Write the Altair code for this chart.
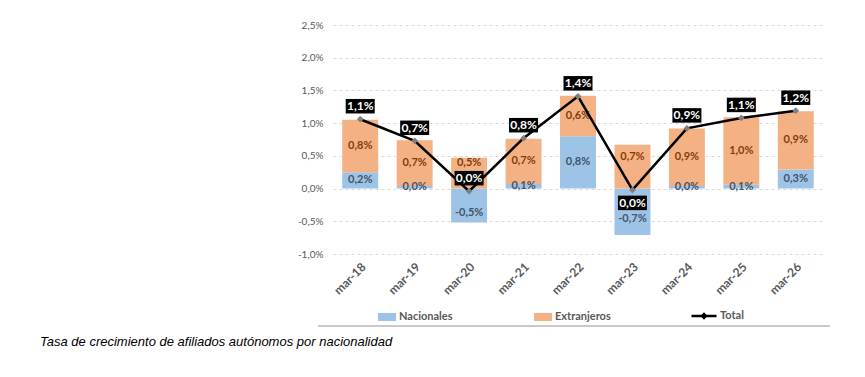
import altair as alt
import pandas as pd

categories = ["mar-18", "mar-19", "mar-20", "mar-21", "mar-22", "mar-23", "mar-24", "mar-25", "mar-26"]
nacionales = [0.25, 0.04, -0.52, 0.07, 0.80, -0.71, 0.04, 0.06, 0.29]
extranjeros = [0.80, 0.70, 0.47, 0.69, 0.62, 0.67, 0.88, 1.03, 0.89]
total = [1.06, 0.73, -0.04, 0.77, 1.41, -0.02, 0.92, 1.08, 1.19]
y_ticks = [-1.0, -0.5, 0.0, 0.5, 1.0, 1.5, 2.0, 2.5]
series_names = ["Nacionales", "Extranjeros"]
series_colors = ["#9DC3E6", "#F4B183"]
label_colors = ["#44546A", "#843C0C"]


def fmt(v):
    return f"{round(v, 1) + 0.0:.1f}".replace(".", ",") + "%"


rows = []
for i, c in enumerate(categories):
    rows.append({"cat": c, "serie": "Nacionales", "value": nacionales[i], "order": 0,
                 "label": fmt(nacionales[i])})
    rows.append({"cat": c, "serie": "Extranjeros", "value": extranjeros[i], "order": 1,
                 "label": fmt(extranjeros[i])})
bars_df = pd.DataFrame(rows)

tot_df = pd.DataFrame({"cat": categories, "value": total,
                       "label": [fmt(v) for v in total], "serie": ["Total"] * len(total)})

FONT = "Lato"
GRAY = "#595959"

x_axis = alt.Axis(labelAngle=-45, labelFont=FONT, labelFontWeight="bold",
                  labelFontSize=12, labelColor=GRAY, ticks=False, domain=False,
                  labelPadding=7, grid=False)
x_scale = alt.Scale(paddingInner=0.34, paddingOuter=0.17)
y_axis = alt.Axis(values=y_ticks, tickCount=8,
                  labelExpr="replace(replace(format(datum.value, '.1f'), '.', ','), '\u2212', '-') + '%'",
                  labelFont=FONT, labelFontSize=10, labelColor=GRAY, ticks=False,
                  domain=False, labelPadding=10, gridColor="#D9D9D9", labelOverlap=False,
                  gridDash=[3, 3], gridWidth=1)
y_scale = alt.Scale(domain=[-1.0, 2.5], nice=False, zero=False)


def X():
    return alt.X("cat:N", sort=categories, title=None, scale=x_scale, axis=x_axis)


def Y(field):
    return alt.Y(field, scale=y_scale, title=None, axis=y_axis)


stacked = alt.Chart(bars_df).transform_stack(
    stack="value", groupby=["cat"], as_=["v0", "v1"], sort=[alt.SortField("order")]
).transform_calculate(mid="(datum.v0 + datum.v1) / 2").transform_joinaggregate(
    minv="min(value)", groupby=["cat"]
)

bars = stacked.mark_bar().encode(
    x=X(),
    y=Y("v0:Q"),
    y2="v1:Q",
    color=alt.Color("serie:N", scale=alt.Scale(domain=series_names, range=series_colors),
                    legend=alt.Legend(title=None, orient="none", direction="horizontal",
                                      legendX=45, legendY=283, columnPadding=81,
                                      symbolType="M-1,-0.45H1V0.45H-1Z", symbolSize=324,
                                      symbolStrokeWidth=0, labelFont=FONT, labelFontSize=11,
                                      labelFontWeight="bold", labelColor=GRAY, labelOffset=3)),
)


def seg_labels(flt, dy):
    return stacked.transform_filter(flt).mark_text(
        font=FONT, fontSize=11, fontWeight="bold", yOffset=dy
    ).encode(
        x=X(),
        y=Y("mid:Q"),
        text="label:N",
        color=alt.Color("serie:N", scale=alt.Scale(domain=series_names, range=label_colors), legend=None),
    )


lab_normal = seg_labels("datum.minv >= 0", 0)
lab_neg_nac = seg_labels("datum.minv < 0 && datum.serie == 'Nacionales'", 7)
lab_neg_ext = seg_labels("datum.minv < 0 && datum.serie == 'Extranjeros'", -10)

line = alt.Chart(tot_df).mark_line(strokeWidth=2.5).encode(
    x=X(),
    y=Y("value:Q"),
    stroke=alt.Stroke("serie:N", scale=alt.Scale(domain=["Total"], range=["black"]),
                      legend=alt.Legend(title=None, orient="none", legendX=357, legendY=277,
                                        symbolType="M-1,0H1M-0.15,0L0,-0.15L0.15,0L0,0.15Z",
                                        symbolSize=625, symbolStrokeWidth=2.5,
                                        labelFont=FONT, labelFontSize=11, labelFontWeight="bold",
                                        labelColor=GRAY, labelOffset=2)),
)

points = alt.Chart(tot_df).mark_point(shape="diamond", filled=True, size=45, color="#7F7F7F", opacity=1).encode(
    x=X(),
    y=Y("value:Q"),
)

base_tot = alt.Chart(tot_df)
box_shape = "M-1,-0.5H1V0.5H-1Z"
above = base_tot.transform_filter(alt.datum.cat != "mar-23")
below = base_tot.transform_filter(alt.datum.cat == "mar-23")


def tot_box(src, dy):
    return src.mark_point(shape=box_shape, filled=True, size=841, color="black", opacity=1,
                          yOffset=dy).encode(x=X(), y=Y("value:Q"))


def tot_txt(src, dy):
    return src.mark_text(font=FONT, fontSize=12, fontWeight="bold", color="white",
                         yOffset=dy).encode(x=X(), y=Y("value:Q"), text="label:N")


border = alt.Chart(tot_df).mark_rule(color="#C8C8C8", strokeWidth=1).encode(
    x=alt.value(-15), x2=alt.value(497), y=alt.value(301)
)

chart = alt.layer(
    bars, lab_normal, lab_neg_nac, lab_neg_ext, line, points,
    tot_box(above, -13), tot_txt(above, -13), tot_box(below, 13), tot_txt(below, 13), border
).resolve_scale(
    color="independent"
).properties(
    width=490, height=229,
    background="white",
    padding={"left": 325, "top": 17, "right": 20, "bottom": 105},
    autosize=alt.AutoSizeParams(type="none"),
    title=alt.TitleParams("Tasa de crecimiento de afiliados autónomos por nacionalidad",
                          orient="bottom", anchor="start", frame="group", dx=-293, offset=9,
                          font="Liberation Sans", fontStyle="italic", fontWeight="normal",
                          fontSize=13, color="black"),
).configure_view(strokeWidth=0, stroke="transparent")

chart.save("out.html", embed_options={"renderer": "svg", "actions": False})
